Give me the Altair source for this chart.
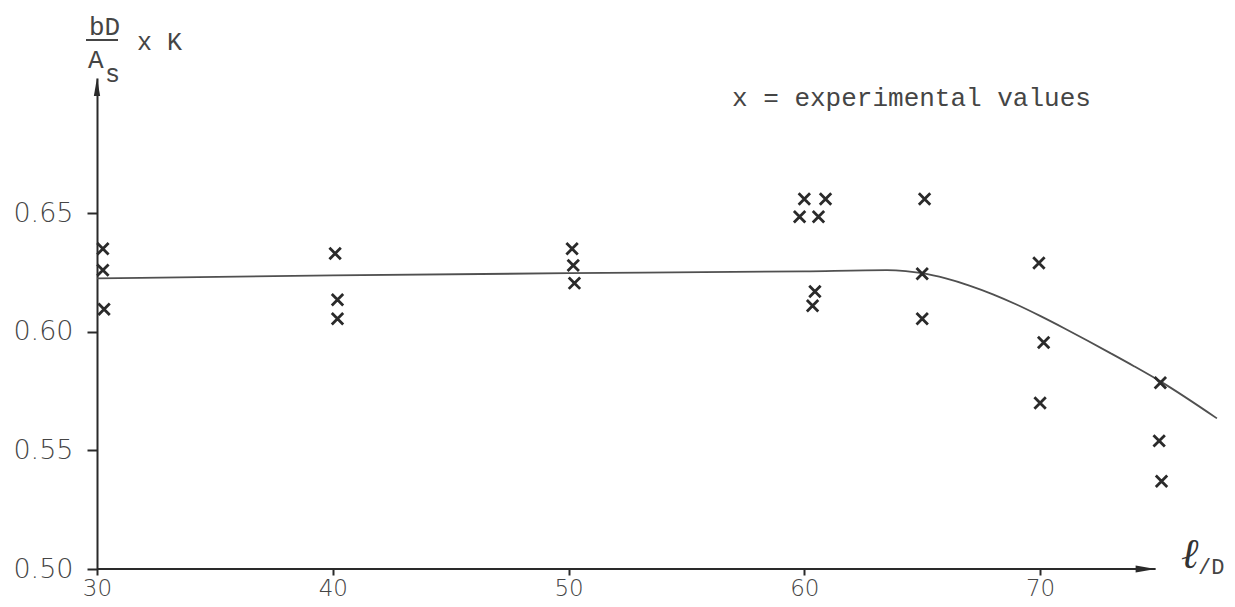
import altair as alt
import pandas as pd

# ---- data ----
exp_ld = [30.25, 30.25, 30.3,
          40.1, 40.2, 40.2,
          50.15, 50.2, 50.25,
          60.0, 60.9, 59.8, 60.6, 60.45, 60.35,
          65.1, 65.0, 65.0,
          69.95, 70.15, 70.0,
          75.1, 75.05, 75.15]
exp_val = [0.635, 0.626, 0.6095,
           0.633, 0.6135, 0.6055,
           0.635, 0.628, 0.6205,
           0.656, 0.656, 0.6485, 0.6485, 0.617, 0.611,
           0.656, 0.6245, 0.6055,
           0.629, 0.5955, 0.570,
           0.5785, 0.554, 0.537]

curve_ld = [30, 40, 50, 60, 63.5, 64.3, 65, 66, 67, 68, 69, 70, 71, 72, 73, 74, 75.1, 77.5]
curve_val = [0.6225, 0.6238, 0.6247, 0.6255, 0.6260, 0.6256, 0.6247, 0.6225, 0.6195,
             0.6158, 0.6115, 0.6067, 0.6016, 0.5963, 0.5909, 0.5854, 0.5791, 0.5635]

x_ticks = [30, 40, 50, 60, 70]
y_ticks = [0.50, 0.55, 0.60, 0.65]

X_DOMAIN = [30, 77.8]
Y_DOMAIN = [0.50, 0.707]
X_AXIS_END = 74.9

INK = "#2a2a2a"
LINE = "#505050"
TEXT = "#454545"

exp_df = pd.DataFrame({"ld": exp_ld, "v": exp_val})
curve_df = pd.DataFrame({"ld": curve_ld, "v": curve_val})

xs = alt.Scale(domain=X_DOMAIN, nice=False, zero=False)
ys = alt.Scale(domain=Y_DOMAIN, nice=False, zero=False)

x_axis = alt.Axis(values=x_ticks, domain=False, grid=False, title=None,
                  tickSize=6, tickWidth=2, tickColor=INK,
                  labelFont="DejaVu Sans", labelFontWeight=200, labelFontSize=23,
                  labelColor=TEXT, labelPadding=2, labelFlush=False)
y_axis = alt.Axis(values=y_ticks, format=".2f", grid=False, title=None,
                  domain=True, domainColor=INK, domainWidth=2,
                  tickSize=10, tickWidth=2, tickColor=INK,
                  labelFont="DejaVu Sans", labelFontWeight=200, labelFontSize=27,
                  labelColor=TEXT, labelPadding=14, labelFlush=False)

curve = alt.Chart(curve_df).mark_line(
    interpolate="monotone", color=LINE, strokeWidth=1.8
).encode(
    x=alt.X("ld:Q", scale=xs, axis=x_axis),
    y=alt.Y("v:Q", scale=ys, axis=y_axis),
)

points = alt.Chart(exp_df).mark_point(
    shape="M-1,-1L1,1M-1,1L1,-1", size=130, filled=False,
    stroke=INK, strokeWidth=2.8, opacity=1
).encode(x=alt.X("ld:Q", scale=xs), y=alt.Y("v:Q", scale=ys))

one = pd.DataFrame({"a": [0]})

x_rule = alt.Chart(one).mark_rule(color=INK, strokeWidth=2).encode(
    x=alt.datum(X_DOMAIN[0], scale=xs), x2=alt.datum(X_AXIS_END),
    y=alt.datum(Y_DOMAIN[0], scale=ys))

x_arrow = alt.Chart(one).mark_point(
    shape="M0,0L-2,-0.35L-2,0.35Z", size=400, filled=True, color=INK, opacity=1
).encode(x=alt.datum(X_AXIS_END, scale=xs), y=alt.datum(Y_DOMAIN[0], scale=ys))

y_arrow = alt.Chart(one).mark_point(
    shape="M0,0L-0.35,2L0.35,2Z", size=324, filled=True, color=INK, opacity=1
).encode(x=alt.datum(X_DOMAIN[0], scale=xs), y=alt.datum(Y_DOMAIN[1], scale=ys))


def label(text, x, y, font="Liberation Mono", size=25, style="normal", color=TEXT, weight="normal"):
    return alt.Chart(one).mark_text(
        text=text, font=font, fontSize=size, fontStyle=style, fontWeight=weight,
        color=color, align="left", baseline="alphabetic"
    ).encode(x=alt.value(x), y=alt.value(y))


frac_bar = alt.Chart(one).mark_rule(color=TEXT, strokeWidth=2).encode(
    x=alt.value(-11), x2=alt.value(21), y=alt.value(-38))

texts = [
    label("bD", -8, -43, size=26),
    label("A", -9, -10, size=26),
    label("s", 8, 4, size=25),
    label("x K", 40, -28, size=25),
    label("x = experimental values", 635, 28, size=26),
    label("ℓ", 1084, 490, font="DejaVu Serif", size=42, style="italic", color="#333"),
    label("/D", 1101, 496, size=22),
]

chart = alt.layer(curve, points, x_rule, x_arrow, y_arrow, frac_bar, *texts).properties(
    width=1127, height=491,
    padding={"left": 89, "top": 70, "right": 3, "bottom": 30},
    autosize=alt.AutoSizeParams(type="none"),
    background="white",
).configure_view(stroke=None)

chart.save("out.html", embed_options={"renderer": "svg", "actions": False})
